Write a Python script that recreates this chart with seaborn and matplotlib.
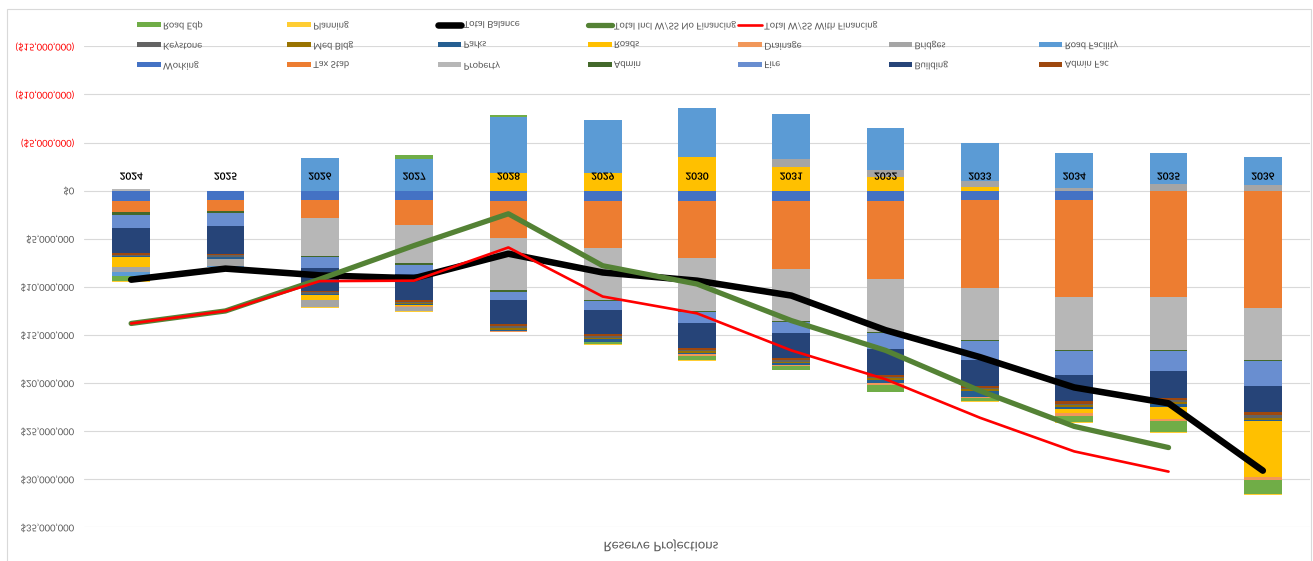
import numpy as np
import matplotlib
matplotlib.use("Agg")
import matplotlib.pyplot as plt
import seaborn as sns
from matplotlib.patheffects import AbstractPathEffect
from matplotlib.transforms import Affine2D
from matplotlib.patches import Rectangle

# anos (categorias)
years = [str(y) for y in range(2024, 2037)]

# componentes das reservas, em milhoes de dolares
working = [1.04, 1.0, 1.0, 0.95, 1.04, 1.04, 1.04, 1.04, 1.04, 1.0, 1.0, 0, 0]
tax_stab = [1.14, 1.14, 1.8, 2.63, 3.85, 4.89, 5.93, 7.1, 8.14, 9.1, 10.1, 11.1, 12.2]
property_ = [-0.15, 0, 3.95, 3.98, 5.44, 5.44, 5.54, 5.4, 5.48, 5.44, 5.5, 5.48, 5.45]
admin = [0.34, 0.2, 0.17, 0.15, 0.17, 0.1, 0.1, 0.1, 0.1, 0.1, 0.1, 0.1, 0.1]
fire = [1.32, 1.35, 1.1, 0.97, 0.87, 0.9, 1.14, 1.2, 1.7, 2.0, 2.42, 2.08, 2.6]
building = [2.66, 2.84, 2.36, 2.7, 2.53, 2.57, 2.6, 2.6, 2.67, 2.67, 2.77, 2.8, 2.7]
admin_fac = [0.15, 0.2, 0.2, 0.2, 0.17, 0.17, 0.17, 0.2, 0.2, 0.2, 0.24, 0.24, 0.3]
keystone = [0.12, 0.12, 0.12, 0.1, 0.2, 0.15, 0.15, 0.15, 0.15, 0.15, 0.15, 0.2, 0.25]
med_bldg = [0.06, 0.06, 0.06, 0.06, 0.2, 0.2, 0.2, 0.15, 0.15, 0.15, 0.2, 0.2, 0.25]
parks = [0.1, 0.15, 0.1, 0.1, 0.15, 0.25, 0.15, 0.15, 0.4, 0.6, 0.25, 0.3, 0.05]
roads = [0.98, 0.02, 0.45, 0.15, -1.87, -1.87, -3.47, -2.43, -1.39, -0.35, 0.42, 1.2, 5.86]
drainage = [0.05, 0.02, 0.05, 0.05, 0.02, 0.05, 0.2, 0.1, 0.15, 0.1, 0.24, 0.28, 0.28]
bridges = [0.5, 0.7, 0.75, 0.5, 0, 0, 0, -0.83, -0.76, -0.66, -0.3, -0.7, -0.6]
road_facility = [0.4, 0.18, -3.4, -3.3, -5.8, -5.5, -5.1, -4.7, -4.33, -4.0, -3.57, -3.26, -2.88]
road_edp = [0.52, 0, 0, -0.4, -0.25, 0.15, 0.4, 0.45, 0.7, 0.4, 0.7, 1.1, 1.46]
planning = [0.08, 0, 0.05, 0.05, 0.08, 0.08, 0.08, 0.05, 0.05, 0.05, 0.1, 0.1, 0.12]

# linhas de totais, em milhoes
total_balance = [9.25, 8.1, 8.8, 9.1, 6.55, 8.5, 9.35, 10.9, 14.5, 17.3, 20.45, 22.1, 29.1]
total_no_fin = [13.8, 12.5, 9.2, 5.7, 2.4, 7.8, 9.7, 13.5, 16.6, 20.8, 24.5, 26.7, np.nan]
total_with_fin = [13.8, 12.5, 9.4, 9.35, 5.9, 11.0, 12.75, 16.6, 19.6, 23.6, 27.1, 29.2, np.nan]

series = [
    ("Working", working, "#4472C4"),
    ("Tax Stab", tax_stab, "#ED7D31"),
    ("Property", property_, "#B7B7B7"),
    ("Admin", admin, "#43682B"),
    ("Fire", fire, "#698ED0"),
    ("Building", building, "#264478"),
    ("Admin Fac", admin_fac, "#9E480E"),
    ("Keystone", keystone, "#636363"),
    ("Med Bldg", med_bldg, "#997300"),
    ("Parks", parks, "#255E91"),
    ("Roads", roads, "#FFC000"),
    ("Drainage", drainage, "#F1975A"),
    ("Bridges", bridges, "#A5A5A5"),
    ("Road Facility", road_facility, "#5B9BD5"),
    ("Road Edp", road_edp, "#70AD47"),
    ("Planning", planning, "#FFCD33"),
]


# o grafico de referencia esta espelhado na vertical: texto de cabeca para baixo
class FlipV(AbstractPathEffect):
    def draw_path(self, renderer, gc, tpath, affine, rgbFace=None):
        bb = tpath.get_extents(affine)
        cy = 0.5 * (bb.y0 + bb.y1)
        t = affine + Affine2D().translate(0, -cy).scale(1, -1).translate(0, cy)
        renderer.draw_path(gc, tpath, t, rgbFace)


sns.set_theme(style="white")
plt.rcParams["font.family"] = ["Lato", "DejaVu Sans"]

W, H = 1313, 561
fig = plt.figure(figsize=(W / 100, H / 100), dpi=100)
ax = fig.add_axes([84 / W, (H - 527.4) / H, (1310 - 84) / W, (527.4 - 46.4) / H])

x = np.arange(len(years))
pos = np.zeros(len(years))
neg = np.zeros(len(years))
for name, vals, col in series:
    v = np.array(vals) * 1e6
    bottom = np.where(v >= 0, pos, neg)
    ax.bar(x, v, bottom=bottom, width=0.4, color=col, label=name, zorder=2, linewidth=0)
    pos = pos + np.where(v >= 0, v, 0)
    neg = neg + np.where(v < 0, v, 0)

sns.lineplot(x=x, y=np.array(total_balance) * 1e6, color="black", linewidth=4.7,
             label="Total Balance", legend=False, ax=ax, zorder=3, solid_capstyle="round")
sns.lineplot(x=x, y=np.array(total_no_fin) * 1e6, color="#548235", linewidth=3.8,
             label="Total Incl W/SS No Financing", legend=False, ax=ax, zorder=4, solid_capstyle="round")
sns.lineplot(x=x, y=np.array(total_with_fin) * 1e6, color="#FF0000", linewidth=1.9,
             label="Total W/SS With Financing", legend=False, ax=ax, zorder=5, solid_capstyle="round")

for i, yr in enumerate(years):
    ax.text(i, -1.4e6, yr, ha="center", va="center", fontsize=7.2,
            fontweight="bold", color="black", zorder=6)

ax.set_xlim(-0.5, len(years) - 0.5)
ax.set_ylim(35e6, -15e6)
ticks = np.arange(-15, 36, 5) * 1e6
labels = []
for t in ticks:
    if t < 0:
        labels.append("(${:,.0f})".format(-t))
    else:
        labels.append("${:,.0f}".format(t))
ax.set_yticks(ticks, labels)
for t, lab in zip(ticks, ax.get_yticklabels()):
    lab.set_color("#FF0000" if t < 0 else "#595959")
ax.tick_params(axis="y", length=0, pad=7, labelsize=6.8)
ax.set_xticks([])
ax.set_xlabel("")
ax.set_ylabel("")
for s in ax.spines.values():
    s.set_visible(False)
ax.yaxis.grid(True, color="#D9D9D9", linewidth=0.8)
ax.set_axisbelow(True)

# legenda: 7 colunas, ordem de linhas invertida como no original espelhado
handles, names = ax.get_legend_handles_labels()
hmap = dict(zip(names, handles))
columns = [
    ["Road Edp", "Keystone", "Working"],
    ["Planning", "Med Bldg", "Tax Stab"],
    ["Total Balance", "Parks", "Property"],
    ["Total Incl W/SS No Financing", "Roads", "Admin"],
    ["Total W/SS With Financing", "Drainage", "Fire"],
    [None, "Bridges", "Building"],
    [None, "Road Facility", "Admin Fac"],
]
row_h = 19.7
for k, col in enumerate(columns):
    entries = [c for c in col if c is not None]
    skip = len(col) - len(entries)
    lx = (137 + 150.3 * k) / W
    ly = 1 - (21 + skip * row_h) / H
    fig.legend([hmap[c] for c in entries], entries, loc="upper left",
               bbox_to_anchor=(lx, ly), frameon=False, fontsize=6.8,
               handlelength=2.5, handleheight=0.5, handletextpad=0.25,
               labelspacing=1.17, borderpad=0, borderaxespad=0,
               labelcolor="#595959")

fig.text(661 / W, 1 - 545 / H, "Reserve Projections", ha="center", va="center",
         fontsize=9.5, color="#595959")

fig.add_artist(Rectangle((7 / W, -0.1), (1311 - 7) / W, 1.1 - 9 / H,
                         transform=fig.transFigure, fill=False,
                         edgecolor="#D9D9D9", linewidth=0.8))

fig.canvas.draw()
for t in fig.findobj(matplotlib.text.Text):
    if t.get_text():
        t.set_path_effects([FlipV()])

fig.savefig("out.png", dpi=100)
